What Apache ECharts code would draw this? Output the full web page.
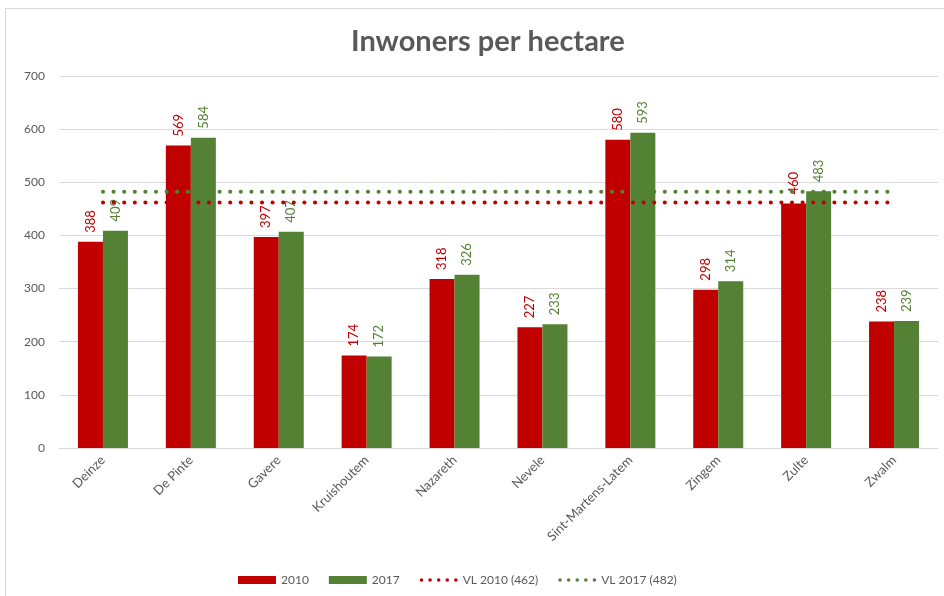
<!DOCTYPE html>
<html>
<head>
<meta charset="utf-8">
<script src="https://cdn.jsdelivr.net/npm/echarts@6/dist/echarts.min.js"></script>
<style>
  html, body { margin: 0; padding: 0; background: #fff; }
  #frame { position: absolute; left: 5px; top: 8px; width: 945px; height: 600px; border-left: 1px solid #d9d9d9; border-top: 1px solid #d9d9d9; }
  #chart { width: 944px; height: 596px; }
</style>
</head>
<body>
<div id="frame"></div>
<div id="chart"></div>
<script>
const categories = ["Deinze", "De Pinte", "Gavere", "Kruishoutem", "Nazareth", "Nevele", "Sint-Martens-Latem", "Zingem", "Zulte", "Zwalm"];
const values2010 = [388, 569, 397, 174, 318, 227, 580, 298, 460, 238];
const values2017 = [409, 584, 407, 172, 326, 233, 593, 314, 483, 239];
const vl2010 = 462;
const vl2017 = 482;
const yTicks = { min: 0, max: 700, interval: 100 };

const RED = "#c00000";
const GREEN = "#548235";
const FONT = "Lato, 'Open Sans', sans-serif";

// five round dots for the dotted-line legend entries
const DOTS_ICON =
  "path://M0,1.8a1.8,1.8 0 1,0 3.6,0a1.8,1.8 0 1,0 -3.6,0" +
  "M8.6,1.8a1.8,1.8 0 1,0 3.6,0a1.8,1.8 0 1,0 -3.6,0" +
  "M17.2,1.8a1.8,1.8 0 1,0 3.6,0a1.8,1.8 0 1,0 -3.6,0" +
  "M25.8,1.8a1.8,1.8 0 1,0 3.6,0a1.8,1.8 0 1,0 -3.6,0" +
  "M34.4,1.8a1.8,1.8 0 1,0 3.6,0a1.8,1.8 0 1,0 -3.6,0";

const chart = echarts.init(document.getElementById("chart"));

function barSeries(name, data, color) {
  return {
    name,
    type: "bar",
    data,
    barWidth: 25,
    barGap: "0%",
    itemStyle: { color },
    label: {
      show: true,
      position: "top",
      rotate: 90,
      align: "left",
      verticalAlign: "middle",
      distance: 9,
      color,
      fontFamily: FONT,
      fontSize: 13,
    },
  };
}

function refLine(name, value, color) {
  return {
    name,
    type: "line",
    data: categories.map(() => value),
    showSymbol: false,
    symbol: "none",
    itemStyle: { color },
    lineStyle: { color, width: 4, type: [0.1, 10.5], cap: "round" },
    z: 3,
  };
}

chart.setOption({
  animation: false,
  title: {
    text: "Inwoners per hectare",
    left: 346,
    top: 22,
    textStyle: { fontFamily: FONT, fontSize: 29, fontWeight: "bold", color: "#595959" },
  },
  grid: { left: 59, right: 6, top: 76, bottom: 148 },
  legend: {
    bottom: 5,
    left: 233,
    itemWidth: 38,
    itemHeight: 8,
    itemGap: 20,
    textStyle: { fontFamily: FONT, fontSize: 12, color: "#595959" },
    data: [
      { name: "2010", icon: "rect" },
      { name: "2017", icon: "rect" },
      { name: "VL 2010 (462)", icon: DOTS_ICON, lineStyle: { opacity: 0 } },
      { name: "VL 2017 (482)", icon: DOTS_ICON, lineStyle: { opacity: 0 } },
    ],
  },
  xAxis: {
    type: "category",
    data: categories,
    axisTick: { show: false },
    axisLine: { lineStyle: { color: "#d9d9d9" } },
    axisLabel: {
      interval: 0,
      rotate: 45,
      margin: 10,
      color: "#595959",
      fontFamily: FONT,
      fontSize: 13,
    },
  },
  yAxis: {
    type: "value",
    min: yTicks.min,
    max: yTicks.max,
    interval: yTicks.interval,
    axisLine: { show: false },
    axisTick: { show: false },
    axisLabel: { color: "#595959", fontFamily: FONT, fontSize: 12, margin: 14 },
    splitLine: { lineStyle: { color: "#d9d9d9" } },
  },
  series: [
    barSeries("2010", values2010, RED),
    barSeries("2017", values2017, GREEN),
    refLine("VL 2010 (462)", vl2010, RED),
    refLine("VL 2017 (482)", vl2017, GREEN),
  ],
});
</script>
</body>
</html>
